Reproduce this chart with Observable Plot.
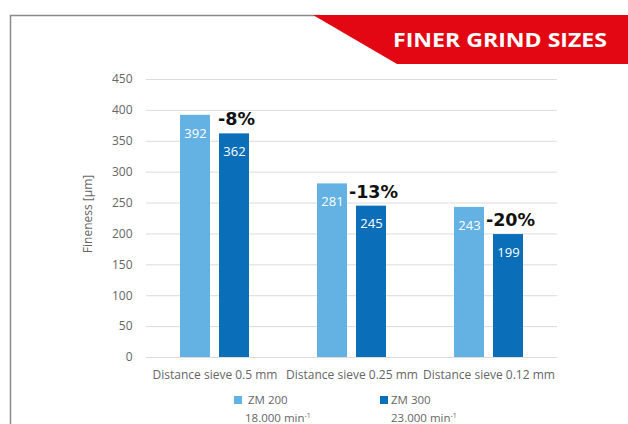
<!DOCTYPE html>
<html>
<head>
<meta charset="utf-8">
<script src="https://cdn.jsdelivr.net/npm/d3@7"></script>
<script src="https://cdn.jsdelivr.net/npm/@observablehq/plot@0.6"></script>
<style>
  html, body { margin: 0; padding: 0; background: #fff; }
  #wrap { position: relative; width: 628px; height: 424px; overflow: hidden; font-family: "Open Sans", sans-serif; }
  #wrap svg.plot { position: absolute; left: 0; top: 0; }
  #overlay { position: absolute; left: 0; top: 0; }
  .leg { position: absolute; font-size: 11.5px; color: #666; line-height: 1; white-space: nowrap; }
  .sw { position: absolute; width: 8px; height: 8px; }
  sup { font-size: 7px; vertical-align: 4px; }
</style>
</head>
<body>
<div id="wrap"></div>
<script>
const categories = ["Distance sieve 0.5 mm", "Distance sieve 0.25 mm", "Distance sieve 0.12 mm"];
const series = ["ZM 200", "ZM 300"];
const speeds = ["18.000 min", "23.000 min"];
const zm200 = [392, 281, 243];
const zm300 = [362, 245, 199];
const reductions = ["-8%", "-13%", "-20%"];
const yTicks = [0, 50, 100, 150, 200, 250, 300, 350, 400, 450];
const colors = ["#64b1e4", "#0a6fb8"];

const rows = categories.flatMap((c, i) => [
  {cat: c, s: series[0], v: zm200[i]},
  {cat: c, s: series[1], v: zm300[i]}
]);
const pctRows = categories.map((c, i) => ({cat: c, s: series[1], v: zm300[i], pct: reductions[i]}));

const chart = Plot.plot({
  width: 628,
  height: 424,
  marginLeft: 145,
  marginRight: 71,
  marginTop: 79,
  marginBottom: 67,
  style: {fontFamily: "Open Sans, sans-serif", fontSize: "12px", color: "#666", background: "transparent"},
  fx: {domain: categories, padding: 0, label: null},
  x: {domain: series, paddingInner: 0.225, paddingOuter: 0.83, axis: null},
  y: {domain: [0, 450], label: null},
  color: {domain: series, range: colors},
  marks: [
    Plot.gridY(yTicks, {stroke: "#dcdcdc", strokeOpacity: 1, strokeWidth: 1}),
    Plot.axisY(yTicks, {tickSize: 0, tickPadding: 14, fill: "#666", fontSize: 12, label: null}),
    Plot.axisFx({anchor: "bottom", tickSize: 0, tickPadding: 13, fill: "#666", fontSize: 12, label: null}),
    Plot.barY(rows, {fx: "cat", x: "s", y: "v", fill: "s"}),
    Plot.text(rows, {fx: "cat", x: "s", y: "v", text: d => String(d.v), fill: "white", fontSize: 13, dy: 18}),
    Plot.text(pctRows, {fx: "cat", x: "s", y: "v", text: "pct", fill: "#111", fontSize: 17.5, fontWeight: "bold", fontFamily: "DejaVu Sans, sans-serif", dy: -14, dx: 2})
  ]
});
chart.classList.add("plot");
const wrap = document.getElementById("wrap");
wrap.appendChild(chart);

// frame + banner overlay
const ov = d3.select(wrap).append("svg").attr("id", "overlay").attr("width", 628).attr("height", 424);
ov.append("path").attr("d", "M10.5,424 L10.5,15.5 L320,15.5").attr("fill", "none").attr("stroke", "#8a8a8a").attr("stroke-width", 1.5);
ov.append("polygon").attr("points", "313,15 628,15 628,64 397,64").attr("fill", "#e30613");
ov.append("text").attr("x", 500).attr("y", 40).attr("dy", "0.35em").attr("text-anchor", "middle")
  .attr("fill", "white").attr("font-family", "Open Sans, sans-serif").attr("font-weight", "bold")
  .attr("font-size", 19).attr("textLength", 214).attr("lengthAdjust", "spacingAndGlyphs").text("FINER GRIND SIZES");
ov.append("text").attr("transform", "translate(88,214) rotate(-90)").attr("text-anchor", "middle").attr("dy", "0.35em")
  .attr("fill", "#666").attr("font-family", "Open Sans, sans-serif").attr("font-size", 12).text("Fineness [µm]");

// legend
const legX = [234, 380];
series.forEach((s, i) => {
  const sw = document.createElement("div");
  sw.className = "sw";
  sw.style.left = legX[i] + "px";
  sw.style.top = "396px";
  sw.style.background = colors[i];
  wrap.appendChild(sw);
  const t1 = document.createElement("div");
  t1.className = "leg";
  t1.style.left = (legX[i] + 13 + (i === 0 ? 1 : -2)) + "px";
  t1.style.top = "394px";
  t1.textContent = s;
  wrap.appendChild(t1);
  const t2 = document.createElement("div");
  t2.className = "leg";
  t2.style.left = (legX[i] + 11) + "px";
  t2.style.top = "412px";
  t2.innerHTML = speeds[i] + "<sup>-1</sup>";
  wrap.appendChild(t2);
});
</script>
</body>
</html>
